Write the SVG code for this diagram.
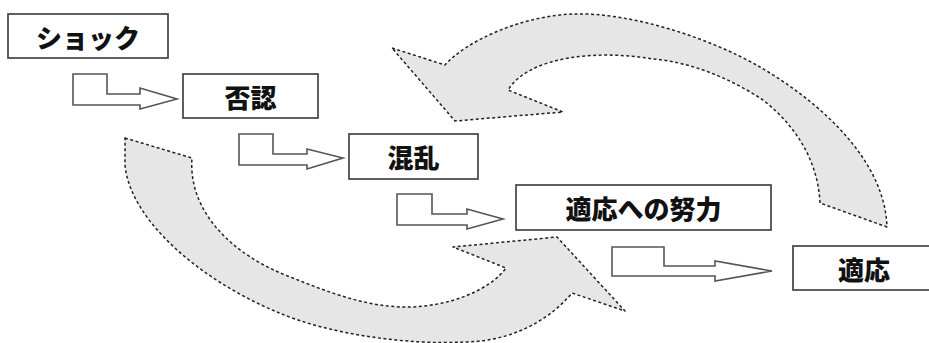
<svg xmlns="http://www.w3.org/2000/svg" width="929" height="343" viewBox="0 0 929 343">
<style>
.bg{fill:#ffffff}
.cyc{fill:#e6e6e6;stroke:#222222;stroke-width:1.5;stroke-dasharray:3 2.5;stroke-linejoin:round}
.step{fill:#ffffff;stroke:#555555;stroke-width:1.6;stroke-linejoin:miter}
.box{fill:#ffffff;stroke:#444444;stroke-width:1.7}
.lbl{font-family:"Noto Sans CJK JP","Noto Sans CJK SC",sans-serif;font-weight:900;font-size:26px;fill:#111111;text-anchor:middle;dominant-baseline:central}
</style>
<rect class="bg" x="0" y="0" width="929" height="343"/>
<g id="connectors">
  <path id="cycle-top" class="cyc" d="M392,48 L445,65 C465,42 520,16 573,14 C630,12 710,38 760,67 C820,102 885,160 887,227 L820,203 C818,160 795,125 763,100 C730,78 690,62 653,59 C600,50 530,55 508,90 L563,112 L455,121 Z"/>
  <path id="cycle-bottom" class="cyc" d="M125,138 L192,158 C188,210 230,255 293,278 C330,293 370,308 410,307 C450,306 490,290 506,268 L453,247 L557,237 L625,311 L572,293 C545,325 505,342 463,342 C410,345 330,335 277,312 C200,280 130,220 125,165 Z"/>
  <polygon id="step1" class="step" points="73,74 107,74 107,94 140,94 140,88 177,99 140,109 140,105 73,105"/>
  <polygon id="step2" class="step" points="239,134 273,134 273,154 307,154 307,149 343,158 307,169 307,165 239,165"/>
  <polygon id="step3" class="step" points="397,194 432,194 432,214 467,214 467,209 503,219 467,229 467,225 397,225"/>
  <polygon id="step4" class="step" points="612,247 664,247 664,266 715,266 715,261 772,271 715,281 715,276 612,276"/>
</g>
<g id="shock">
  <rect class="box" x="8" y="14" width="160" height="44"/>
  <text class="lbl" x="88" y="36">ショック</text>
</g>
<g id="denial">
  <rect class="box" x="183" y="74" width="135" height="44"/>
  <text class="lbl" x="250.5" y="96">否認</text>
</g>
<g id="confusion">
  <rect class="box" x="349" y="134" width="129" height="45"/>
  <text class="lbl" x="413.5" y="156.5">混乱</text>
</g>
<g id="effort">
  <rect class="box" x="516" y="185" width="255" height="45"/>
  <text class="lbl" x="643.5" y="207.5">適応への努力</text>
</g>
<g id="adaptation">
  <rect class="box" x="793" y="246" width="145" height="44"/>
  <text class="lbl" x="864" y="268">適応</text>
</g>
</svg>
